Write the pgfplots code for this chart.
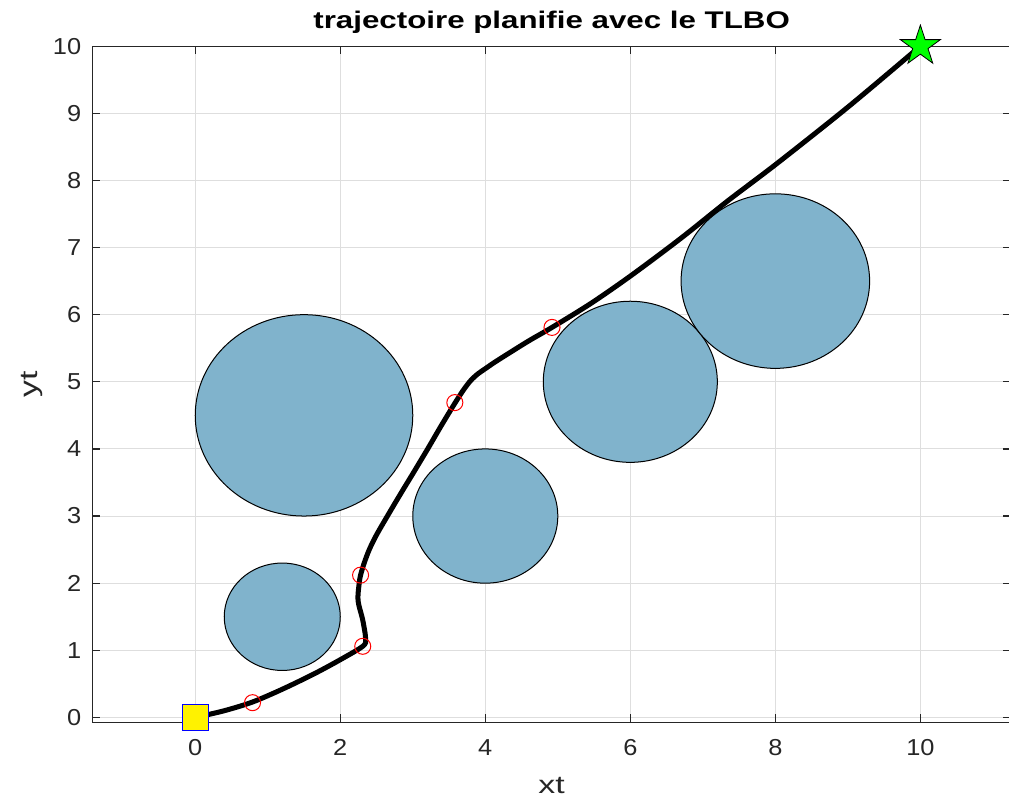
\documentclass[border=0pt]{standalone}
\usepackage{pgfplots}
\pgfplotsset{compat=1.18}
\usepackage{fontspec}
\setmainfont{Liberation Sans}
\newfontfamily\tickfont[FakeStretch=1.1]{Liberation Sans}
\newfontfamily\labfont[FakeStretch=1.35]{Liberation Sans}
\newfontfamily\titfont[FakeStretch=1.3]{Liberation Sans Bold}
\definecolor{obst}{RGB}{128,179,204}
\definecolor{axc}{RGB}{38,38,38}
\definecolor{gridc}{RGB}{222,222,222}
\pgfdeclareplotmark{fstar}{%
  \pgfpathmoveto{\pgfpointpolar{90}{\pgfplotmarksize}}%
  \pgfpathlineto{\pgfpointpolar{126}{0.382\pgfplotmarksize}}%
  \pgfpathlineto{\pgfpointpolar{162}{\pgfplotmarksize}}%
  \pgfpathlineto{\pgfpointpolar{198}{0.382\pgfplotmarksize}}%
  \pgfpathlineto{\pgfpointpolar{234}{\pgfplotmarksize}}%
  \pgfpathlineto{\pgfpointpolar{270}{0.382\pgfplotmarksize}}%
  \pgfpathlineto{\pgfpointpolar{306}{\pgfplotmarksize}}%
  \pgfpathlineto{\pgfpointpolar{342}{0.382\pgfplotmarksize}}%
  \pgfpathlineto{\pgfpointpolar{18}{\pgfplotmarksize}}%
  \pgfpathlineto{\pgfpointpolar{54}{0.382\pgfplotmarksize}}%
  \pgfpathclose
  \pgfusepathqfillstroke}
\begin{document}
\begin{tikzpicture}
\useasboundingbox (-46pt,-41.5pt) rectangle (457pt,360pt);
\begin{axis}[
  at={(0,0)}, anchor=south west,
  scale only axis, width=458pt, height=337pt,
  xmin=-1.42, xmax=11.25, ymin=-0.07, ymax=10,
  xtick={0,2,...,10}, ytick={0,1,...,10},
  grid=major,
  major grid style={gridc, line width=0.5pt},
  axis line style={axc, line width=0.6pt},
  tick style={axc, line width=0.6pt},
  tick align=inside, major tick length=4pt,
  xtick pos=both, ytick pos=both,
  /pgf/number format/assume math mode=true,
  ticklabel style={font=\tickfont\fontsize{11.5}{12}\selectfont, text=axc},
  xticklabel style={yshift=-5pt},
  yticklabel style={xshift=-2pt},
  xlabel={xt}, ylabel={yt},
  label style={font=\labfont\fontsize{12.5}{13}\selectfont, text=axc},
  xlabel style={yshift=-4pt},
  ylabel style={yshift=-2pt},
  title={trajectoire planifie avec le TLBO},
  title style={font=\titfont\fontsize{12}{13}\selectfont, yshift=-3pt},
  clip=false,
]
% obstacles: centre x, centre y, radius
\draw[black, line width=0.5pt, fill=obst] (axis cs:1.5,4.5) ellipse [x radius=1.5, y radius=1.5];
\draw[black, line width=0.5pt, fill=obst] (axis cs:1.2,1.5) ellipse [x radius=0.8, y radius=0.8];
\draw[black, line width=0.5pt, fill=obst] (axis cs:4,3) ellipse [x radius=1.0, y radius=1.0];
\draw[black, line width=0.5pt, fill=obst] (axis cs:6,5) ellipse [x radius=1.2, y radius=1.2];
\draw[black, line width=0.5pt, fill=obst] (axis cs:8,6.5) ellipse [x radius=1.3, y radius=1.3];
% path
\addplot[black, line width=2.5pt, smooth, tension=0.5] coordinates {
(0,0) (0.4,0.1) (0.79,0.23) (1.2,0.42) (1.64,0.65) (2.0,0.86) (2.31,1.06)
(2.35,1.17) (2.31,1.45) (2.245,1.74) (2.26,1.99) (2.28,2.12)
(2.33,2.30) (2.40,2.50) (2.50,2.72) (2.65,3.00) (2.82,3.31) (3.0,3.63)
(3.2,3.99) (3.4,4.36) (3.58,4.68)
(3.70,4.88) (3.80,5.02) (3.90,5.12) (4.0,5.195) (4.1,5.27) (4.2,5.34)
(4.31,5.415) (4.6,5.61) (4.92,5.81)
(5.46,6.17) (6.02,6.59) (6.7,7.14)
(7.35,7.70) (8.02,8.25) (9.01,9.10) (10,10)};
% waypoints
\addplot[only marks, mark=o, mark size=4pt, red, mark options={line width=0.5pt}] coordinates {
(0.79,0.22) (2.31,1.06) (2.28,2.12) (3.58,4.69) (4.92,5.81)};
% start
\addplot[only marks, mark=square*, mark size=6.5pt, mark options={fill=yellow, draw=blue, line width=0.6pt}] coordinates {(0,0)};
% goal
\addplot[only marks, mark=fstar, mark size=10.5pt, mark options={fill=green, draw=black, line width=0.4pt}] coordinates {(10,10)};
\end{axis}
\end{tikzpicture}
\end{document}
